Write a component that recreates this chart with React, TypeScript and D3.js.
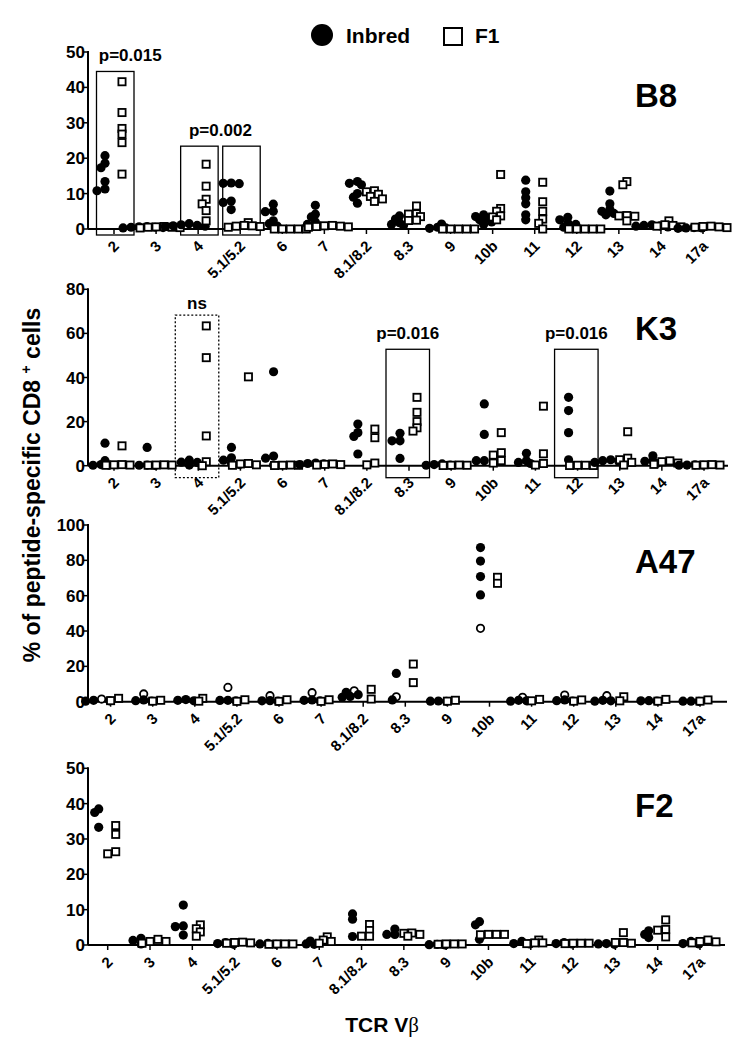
import React from 'react';
import * as d3 from 'd3';

// ---------- DATA ----------
const categories = ['2', '3', '4', '5.1/5.2', '6', '7', '8.1/8.2', '8.3', '9', '10b', '11', '12', '13', '14', '17a'];
const yTicksB8 = [0, 10, 20, 30, 40, 50];
const yTicksK3 = [0, 20, 40, 60, 80];
const yTicksA47 = [0, 20, 40, 60, 80, 100];
const yTicksF2 = [0, 10, 20, 30, 40, 50];

const b8Inbred: number[][] = [
  [20.7, 18.6, 17.3, 13.4, 10.8, 11.3],
  [0.6, 0.5, 0.4, 0.7, 0.5, 0.3],
  [1.2, 0.9, 0.8, 1.0, 0.7, 1.5],
  [12.9, 12.8, 13.0, 7.9, 7.5, 5.5],
  [5.0, 4.9, 7.0, 2.3, 1.5, 0.8],
  [6.7, 4.2, 3.4, 2.0, 1.3, 0.8],
  [13.4, 12.9, 9.0, 7.3, 10.0, 12.5],
  [1.8, 2.8, 3.7, 1.3, 1.0],
  [0.5, 1.4, 0.3, 0.2],
  [3.1, 4.0, 2.6, 1.3, 2.0, 3.5],
  [13.8, 10.5, 8.8, 7.1, 4.0, 2.6],
  [3.3, 2.6, 1.3, 1.7, 0.5],
  [10.7, 7.1, 5.5, 5.0, 4.0, 4.4],
  [1.0, 0.8, 1.2, 0.6, 0.9],
  [0.3, 0.2, 0.4, 0.3],
];
const b8F1: number[][] = [
  [41.6, 32.9, 28.4, 26.8, 24.4, 15.5],
  [0.5, 0.6, 0.4, 0.7, 0.3, 0.5],
  [18.3, 12.1, 8.4, 7.1, 5.2, 2.3],
  [1.8, 1.0, 0.8, 0.7, 0.9, 0.5],
  [0, 0, 0, 0, 0],
  [0.7, 0.8, 1.0, 0.5, 0.9, 0.6],
  [10.5, 9.8, 10.8, 7.8, 8.5, 9.2],
  [6.5, 4.3, 4.2, 2.5, 2.4, 3.5],
  [0, 0, 0, 0, 0],
  [15.4, 5.8, 5.0, 3.4, 2.6, 3.7],
  [13.2, 7.7, 5.0, 2.8, 1.6, 0],
  [0, 0, 0, 0, 0],
  [13.4, 12.5, 3.8, 3.6, 3.7, 2.3],
  [2.3, 1.2, 0.8, 1.0, 0.6],
  [0.8, 0.5, 0.6, 0.7, 0.4],
];

const k3Inbred: number[][] = [
  [10.2, 2.3, 0.5, 0.3, 0.2],
  [8.3, 0.2, 0.3, 0.1],
  [1.6, 1.5, 2.5, 0.3],
  [8.3, 3.6, 2.5, 1.2, 0.5],
  [42.6, 4.4, 3.4, 0.3],
  [1.0, 0.8, 0.5, 1.2],
  [18.9, 15.0, 13.3, 5.3],
  [11.3, 11.3, 14.7, 3.3],
  [0.5, 0.8, 0.3, 0.2],
  [28.0, 14.2, 2.3, 2.3],
  [5.6, 2.3, 1.5, 1.0],
  [31.0, 25.0, 15.0, 2.7],
  [2.7, 2.3, 1.5, 2.0],
  [2.3, 4.5, 1.0, 2.0],
  [0.3, 0.2, 0.4, 0.2],
];
const k3F1: number[][] = [
  [9.0, 0.5, 0.3, 0.4, 0.2],
  [0.3, 0.2, 0.4, 0.3],
  [63.4, 49.0, 13.5, 1.8, 0.0],
  [40.3, 1.0, 0.8, 0.4, 0.2],
  [0.2, 0.1, 0.3, 0.2],
  [0.5, 0.8, 0.3, 0.6],
  [16.6, 12.7, 1.2, 0.4],
  [31.0, 24.2, 20.0, 17.2, 15.7],
  [0.3, 0.2, 0.1, 0.2],
  [15.0, 5.9, 4.8, 2.3, 1.2],
  [27.0, 5.4, 1.0, 0.3],
  [0.2, 0.1, 0.2, 0.1],
  [15.4, 3.4, 2.7, 1.5, 0.3],
  [2.2, 1.8, 1.2, 0.6],
  [0.4, 0.3, 0.5, 0.2],
];

const a47Inbred: number[][] = [
  [0.8, 0.5, 0.3],
  [1.0, 0.6, 0.4],
  [1.2, 0.8, 0.5],
  [0.8, 0.7, 0.5],
  [0.6, 0.5, 0.3],
  [1.0, 0.8, 0.5],
  [3.0, 2.5, 5.3, 4.0],
  [16.0, 1.0],
  [0.3, 0.2, 0.4],
  [87.2, 79.6, 70.8, 60.4],
  [0.8, 0.5, 0.3],
  [1.0, 0.6, 0.4],
  [0.8, 0.5, 0.3],
  [0.6, 0.5, 0.4],
  [0.3, 0.2, 0.3],
];
const a47InbredOpen: (number | null)[] = [1.5, 4.4, null, 8.1, 3.4, 5.1, 6.2, 2.8, null, 41.5, 2.5, 3.8, 3.4, null, null];
const a47F1: number[][] = [
  [0.6, 1.9], [0.3, 0.8], [0.3, 1.9], [0.2, 1.1], [0.2, 1.1], [0.2, 1.1], [1.5, 7.0],
  [21.3, 10.8], [0.3, 0.8], [67.0, 70.4], [0.5, 1.3], [0.3, 1.0], [0.5, 2.8], [0.3, 1.3], [0.3, 1.0],
];

const f2Inbred: number[][] = [
  [38.5, 37.5, 33.3],
  [1.9, 0.3, 1.3],
  [11.3, 2.8, 5.4, 5.2],
  [0.7, 0.2, 0.4],
  [0.5, 0.2, 0.3],
  [1.1, 0.3, 0.2],
  [8.8, 7.3, 2.4],
  [4.5, 3.0, 3.0],
  [0.2, 0.1, 0.0],
  [6.6, 5.7, 1.6],
  [1.0, 0.4, 0.3],
  [0.7, 0.4, 0.3],
  [0.4, 0.3, 0.2],
  [4.0, 2.1, 3.0],
  [1.0, 0.4, 0.3],
];
const f2F1: number[][] = [
  [33.8, 31.3, 25.8, 26.4],
  [1.0, 1.6, 1.0, 0.5],
  [5.7, 4.6, 3.7, 2.5],
  [0.5, 0.8, 0.6, 0.7],
  [0.3, 0.3, 0.2, 0.3],
  [2.3, 1.4, 1.0, 0.5],
  [4.1, 5.8, 2.5, 2.5],
  [3.4, 2.5, 3.3, 3.0],
  [0.3, 0.3, 0.2, 0.3],
  [2.9, 3.0, 3.0, 3.0],
  [0.6, 1.4, 0.6, 0.4],
  [0.5, 0.5, 0.4, 0.5],
  [3.5, 0.7, 0.5, 0.7],
  [7.1, 4.4, 4.2, 2.3],
  [1.4, 0.9, 1.0, 0.6],
];

// significance boxes: panel, category, top value, dashed
const boxPanels = ['B8', 'B8', 'B8', 'K3', 'K3', 'K3'];
const boxCats = ['2', '4', '5.1/5.2', '4', '8.3', '12'];
const boxTops = [44.5, 23.4, 23.4, 68.3, 52.8, 52.8];
const boxDashed = [false, false, false, true, false, false];
const noteTexts = ['p=0.015', 'p=0.002', 'ns', 'p=0.016', 'p=0.016'];
const notePanels = ['B8', 'B8', 'K3', 'K3', 'K3'];
const noteCats = [['2'], ['4', '5.1/5.2'], ['4'], ['8.3'], ['12']];
const noteTops = [44.5, 23.4, 68.3, 52.8, 52.8];

// ---------- LAYOUT ----------
const FONT = "'Liberation Sans', Arial, Helvetica, sans-serif";
const AXIS_X = 88;

type PanelCfg = {
  name: string;
  inbred: number[][];
  open?: (number | null)[];
  f1: number[][];
  ticks: number[];
  y0: number;
  yTop: number;
  xFirst: number;
  xLast: number;
  axisEnd: number;
  boxPad: number;
  boxL: number;
  boxR: number;
  nameY: number;
};

const panels: PanelCfg[] = [
  { name: 'B8', inbred: b8Inbred, f1: b8F1, ticks: yTicksB8, y0: 229, yTop: 52, xFirst: 114, xLast: 703, axisEnd: 727, boxPad: 6, boxL: 17.5, boxR: 20, nameY: 107 },
  { name: 'K3', inbred: k3Inbred, f1: k3F1, ticks: yTicksK3, y0: 465.7, yTop: 289.3, xFirst: 114, xLast: 704, axisEnd: 728, boxPad: 12, boxL: 23, boxR: 20.5, nameY: 340 },
  { name: 'A47', inbred: a47Inbred, open: a47InbredOpen, f1: a47F1, ticks: yTicksA47, y0: 701.7, yTop: 525, xFirst: 110.6, xLast: 700, axisEnd: 727, boxPad: 6, boxL: 18, boxR: 20, nameY: 573 },
  { name: 'F2', inbred: f2Inbred, f1: f2F1, ticks: yTicksF2, y0: 945, yTop: 768.3, xFirst: 107.7, xLast: 700, axisEnd: 725, boxPad: 6, boxL: 18, boxR: 20, nameY: 817 },
];

type Pt = { v: number; kind: 'fill' | 'open' | 'sq'; y: number; x: number };

function swarm(items: { v: number; kind: Pt['kind'] }[], y: (v: number) => number, cx: number): Pt[] {
  const pts = items.map((d) => ({ ...d, y: y(d.v), x: cx })).sort((a, b) => a.y - b.y);
  const placed: Pt[] = [];
  const step = 4;
  const minD = 4.8;
  for (const p of pts) {
    for (let k = 0; k < 30; k++) {
      const off = k === 0 ? 0 : (k % 2 ? -1 : 1) * Math.ceil(k / 2) * step;
      const xx = cx + off;
      if (placed.every((q) => Math.hypot(q.x - xx, q.y - p.y) >= minD)) {
        placed.push({ ...p, x: xx });
        break;
      }
    }
  }
  return placed;
}

function PanelView({ cfg }: { cfg: PanelCfg }) {
  const yMax = cfg.ticks[cfg.ticks.length - 1];
  const y = d3.scaleLinear().domain([0, yMax]).range([cfg.y0, cfg.yTop]);
  const x = d3.scalePoint<string>().domain(categories).range([cfg.xFirst, cfg.xLast]);
  const marks: Pt[] = [];
  categories.forEach((c, i) => {
    const cx = x(c) as number;
    const inb: { v: number; kind: Pt['kind'] }[] = cfg.inbred[i].map((v) => ({ v, kind: 'fill' as const }));
    if (cfg.open && cfg.open[i] != null) inb.push({ v: cfg.open[i] as number, kind: 'open' });
    marks.push(...swarm(inb, y, cx - 9));
    marks.push(...swarm(cfg.f1[i].map((v) => ({ v, kind: 'sq' as const })), y, cx + 8));
  });

  const boxes = boxPanels
    .map((p, i) => ({ p, cat: boxCats[i], top: boxTops[i], dashed: boxDashed[i] }))
    .filter((b) => b.p === cfg.name);
  const notes = notePanels
    .map((p, i) => ({ p, text: noteTexts[i], cats: noteCats[i], top: noteTops[i] }))
    .filter((n) => n.p === cfg.name);

  return (
    <g>
      {boxes.map((b, i) => {
        const cx = x(b.cat) as number;
        return (
          <rect
            key={'b' + i}
            x={cx - cfg.boxL}
            y={y(b.top)}
            width={cfg.boxL + cfg.boxR}
            height={cfg.y0 + cfg.boxPad - y(b.top)}
            fill="none"
            stroke="#000"
            strokeWidth={1.3}
            strokeDasharray={b.dashed ? '2,2' : undefined}
          />
        );
      })}
      {notes.map((n, i) => {
        const cx = d3.mean(n.cats.map((c) => (x(c) as number) + (cfg.boxR - cfg.boxL) / 2)) as number;
        const dx = n.text === 'p=0.015' ? 15 : 0;
        return (
          <text key={'n' + i} x={cx + dx} y={y(n.top) - (n.text === 'ns' ? 6 : 10)} textAnchor="middle" fontFamily={FONT} fontWeight="bold" fontSize={17}>
            {n.text}
          </text>
        );
      })}
      {/* y axis */}
      <line x1={AXIS_X} x2={AXIS_X} y1={cfg.yTop - 1} y2={cfg.y0} stroke="#000" strokeWidth={2} />
      {cfg.ticks.map((t) => (
        <g key={'yt' + t}>
          <line x1={AXIS_X - 5} x2={AXIS_X} y1={y(t)} y2={y(t)} stroke="#000" strokeWidth={1.5} />
          <text x={AXIS_X - 3} y={y(t) + 6} textAnchor="end" fontFamily={FONT} fontWeight="bold" fontSize={17}>
            {t}
          </text>
        </g>
      ))}
      {/* x axis */}
      <line x1={AXIS_X} x2={cfg.axisEnd} y1={cfg.y0} y2={cfg.y0} stroke="#000" strokeWidth={2} />
      {categories.map((c) => {
        const tx = (x(c) as number) + 6;
        const ty = cfg.y0 + 18;
        return (
          <g key={'xt' + c}>
            <line x1={tx - 6} x2={tx - 6} y1={cfg.y0} y2={cfg.y0 + 5} stroke="#000" strokeWidth={1.5} />
            <text transform={`translate(${tx},${ty}) rotate(-45)`} textAnchor="end" fontFamily={FONT} fontWeight="bold" fontSize={15}>
              {c}
            </text>
          </g>
        );
      })}
      {/* marks */}
      {marks.map((m, i) =>
        m.kind === 'sq' ? (
          <rect key={'m' + i} x={m.x - 3.6} y={m.y - 3.6} width={7.2} height={7.2} fill="#fff" stroke="#000" strokeWidth={1.8} />
        ) : m.kind === 'open' ? (
          <circle key={'m' + i} cx={m.x} cy={m.y} r={3.7} fill="#fff" stroke="#000" strokeWidth={1.8} />
        ) : (
          <circle key={'m' + i} cx={m.x} cy={m.y} r={4.6} fill="#000" />
        )
      )}
      <text x={635} y={cfg.nameY} fontFamily={FONT} fontWeight="bold" fontSize={33}>
        {cfg.name}
      </text>
    </g>
  );
}

export default function App() {
  return (
    <svg width={734} height={1050} style={{ position: 'absolute', left: 0, top: 0, background: '#fff' }}>
      <rect x={0} y={0} width={734} height={1050} fill="#fff" />
      {/* legend */}
      <circle cx={322} cy={35} r={11} fill="#000" />
      <text x={346} y={43} fontFamily={FONT} fontWeight="bold" fontSize={21}>Inbred</text>
      <rect x={444} y={28} width={18} height={17} fill="#fff" stroke="#000" strokeWidth={2} />
      <text x={475} y={43} fontFamily={FONT} fontWeight="bold" fontSize={21}>F1</text>
      {panels.map((p) => (
        <PanelView key={p.name} cfg={p} />
      ))}
      {/* y title */}
      <text transform="translate(40,485) rotate(-90)" textAnchor="middle" fontFamily={FONT} fontWeight="bold" fontSize={23}>
        % of peptide-specific CD8 <tspan fontSize={14} dy={-9}>+</tspan><tspan dy={9}> cells</tspan>
      </text>
      {/* x title */}
      <text x={382} y={1032} textAnchor="middle" fontFamily={FONT} fontWeight="bold" fontSize={21}>
        TCR V<tspan fontFamily="'Liberation Serif', 'DejaVu Serif', serif" fontWeight="normal">β</tspan>
      </text>
    </svg>
  );
}
